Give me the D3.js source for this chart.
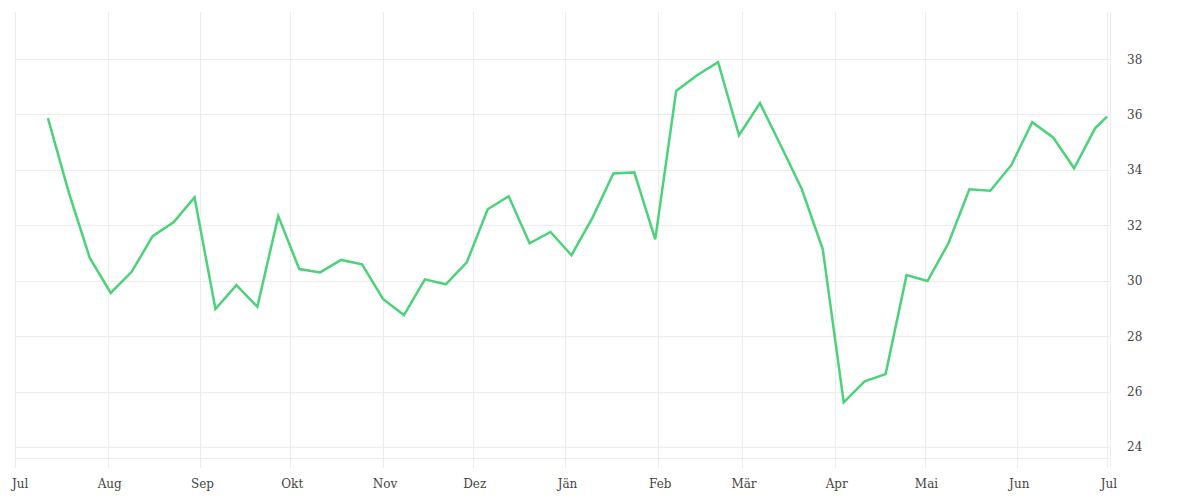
<!DOCTYPE html>
<html><head><meta charset="utf-8">
<script src="https://cdn.jsdelivr.net/npm/d3@7"></script>
<style>body{margin:0;background:#fff}svg{display:block}text{font-family:"DejaVu Serif",serif;}</style>
</head><body><svg id="c" width="1200" height="500"></svg>
<script>
const startDate = "2022-07-12";
const values = [35.87,33.18,30.82,29.56,30.32,31.61,32.11,33.01,28.98,29.84,29.06,32.33,30.42,30.30,30.75,30.59,29.34,28.76,30.05,29.87,30.66,32.58,33.05,31.35,31.76,30.92,32.27,33.87,33.91,31.49,36.85,37.42,37.89,35.25,36.41,34.87,33.30,31.13,25.61,26.37,26.63,30.20,29.99,31.35,33.30,33.25,34.17,35.72,35.17,34.06,35.50];
const lastDate = "2023-07-01";
const lastValue = 35.92;
const monthLabels = ["Jul","Aug","Sep","Okt","Nov","Dez","Jän","Feb","Mär","Apr","Mai","Jun","Jul"];
const yTicks = [24,26,28,30,32,34,36,38];

(function(){
const parse = d3.utcParse("%Y-%m-%d");
const s = parse(startDate);
const data = values.map((v,i)=>({date:d3.utcDay.offset(s,7*i), value:v}));
data.push({date:parse(lastDate), value:lastValue});

const svg = d3.select("#c");
const pL=15, pR=1110, pT=12, pB=458;
const x = d3.scaleUtc().domain([new Date(Date.UTC(2022,6,1)), new Date(Date.UTC(2023,6,2))]).range([pL, pR]);
const y = d3.scaleLinear().domain([23.6,39.7]).range([pB, pT]);

const monthTicks = d3.utcMonth.range(new Date(Date.UTC(2022,6,1)), new Date(Date.UTC(2023,6,2)));

const g = svg.append("g");
g.selectAll("line.h").data(yTicks.concat([23.6])).join("line")
  .attr("x1",pL).attr("x2",pR).attr("y1",d=>Math.round(y(d))+0.5).attr("y2",d=>Math.round(y(d))+0.5)
  .attr("stroke","#ececec").attr("stroke-width",1);
g.selectAll("line.v").data(monthTicks).join("line")
  .attr("x1",d=>Math.round(x(d))+0.5).attr("x2",d=>Math.round(x(d))+0.5).attr("y1",pT).attr("y2",pB+10)
  .attr("stroke","#ececec").attr("stroke-width",1);
g.append("line").attr("x1",pR+0.5).attr("x2",pR+0.5).attr("y1",pT).attr("y2",pB+8)
  .attr("stroke","#ececec");

svg.append("g").selectAll("text").data(monthTicks).join("text")
  .attr("x",(d,i)=> i===0 ? x(d)-3 : x(d)+2).attr("y",488)
  .attr("text-anchor",(d,i)=> i===0 ? "start" : "middle")
  .attr("font-size",12).attr("fill","#444")
  .text((d,i)=>monthLabels[i]);

svg.append("g").selectAll("text").data(yTicks).join("text")
  .attr("x",1127).attr("y",d=>y(d)+4.5)
  .attr("font-size",12).attr("fill","#444").text(d=>d);

const line = d3.line().x(d=>x(d.date)).y(d=>y(d.value));
svg.append("path").datum(data).attr("d",line)
  .attr("fill","none").attr("stroke","#4cd27a").attr("stroke-width",2.5)
  .attr("stroke-linejoin","miter");
})();
</script></body></html>
